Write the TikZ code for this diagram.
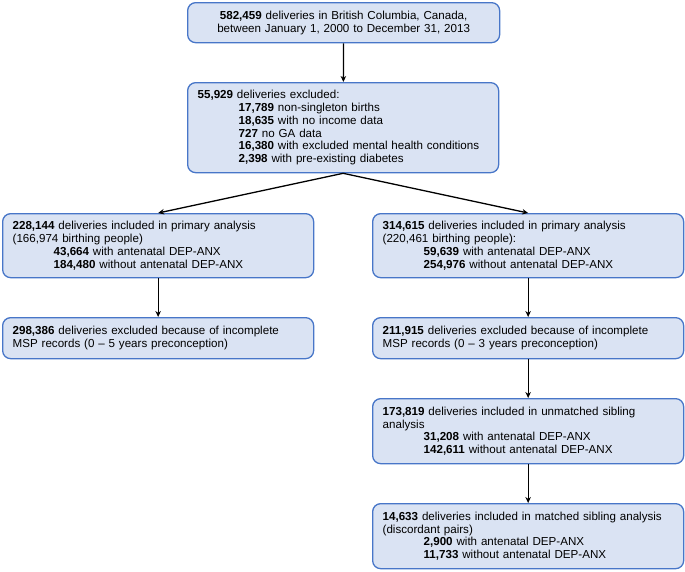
\documentclass[tikz,border=0pt]{standalone}
\usepackage{fontspec}
\setmainfont{Liberation Sans}
\usetikzlibrary{arrows.meta}
\definecolor{boxfill}{RGB}{218,227,243}
\definecolor{boxline}{RGB}{72,118,200}
\newcommand{\ind}{\hspace*{41pt}}
\begin{document}
\begin{tikzpicture}[x=1pt,y=-1pt,
  box/.style={draw=boxline, fill=boxfill, line width=1.3pt, rounded corners=8pt,
    anchor=north west, align=left, inner xsep=10pt, inner ysep=0pt,
    text width=291pt, font=\fontsize{11.6}{12.7}\selectfont},
  conn/.style={line width=1.3pt, -{Stealth[length=6pt,width=5.5pt]}}]
\useasboundingbox (0,0) rectangle (685,571);
\node[box, align=center, text width=292pt, minimum height=40pt] (top) at (187,2)
  {\textbf{582,459} deliveries in British Columbia, Canada,\\between January 1, 2000 to December 31, 2013};
\node[box, text width=291pt, minimum height=90pt] (excl) at (187,82)
  {\textbf{55,929} deliveries excluded:\\
   \ind\textbf{17,789} non-singleton births\\
   \ind\textbf{18,635} with no income data\\
   \ind\textbf{727} no GA data\\
   \ind\textbf{16,380} with excluded mental health conditions\\
   \ind\textbf{2,398} with pre-existing diabetes};
\node[box, minimum height=64pt] (l1) at (2,213)
  {\textbf{228,144} deliveries included in primary analysis\\
   (166,974 birthing people)\\
   \ind\textbf{43,664} with antenatal DEP-ANX\\
   \ind\textbf{184,480} without antenatal DEP-ANX};
\node[box, minimum height=41pt] (l2) at (2,317)
  {\textbf{298,386} deliveries excluded because of incomplete\\
   MSP records (0 -- 5 years preconception)};
\node[box, minimum height=64pt] (r1) at (372,213)
  {\textbf{314,615} deliveries included in primary analysis\\
   (220,461 birthing people):\\
   \ind\textbf{59,639} with antenatal DEP-ANX\\
   \ind\textbf{254,976} without antenatal DEP-ANX};
\node[box, minimum height=41pt] (r2) at (372,317)
  {\textbf{211,915} deliveries excluded because of incomplete\\
   MSP records (0 -- 3 years preconception)};
\node[box, minimum height=65pt] (r3) at (372,398)
  {\textbf{173,819} deliveries included in unmatched sibling\\
   analysis\\
   \ind\textbf{31,208} with antenatal DEP-ANX\\
   \ind\textbf{142,611} without antenatal DEP-ANX};
\node[box, minimum height=65pt] (r4) at (372,503)
  {\textbf{14,633} deliveries included in matched sibling analysis\\
   (discordant pairs)\\
   \ind\textbf{2,900} with antenatal DEP-ANX\\
   \ind\textbf{11,733} without antenatal DEP-ANX};
\draw[conn] (top) -- (excl);
\draw[conn] (excl.south) -- (l1.north);
\draw[conn] (excl.south) -- (r1.north);
\draw[conn] (l1) -- (l2);
\draw[conn] (r1) -- (r2);
\draw[conn] (r2) -- (r3);
\draw[conn] (r3) -- (r4);
\end{tikzpicture}
\end{document}
